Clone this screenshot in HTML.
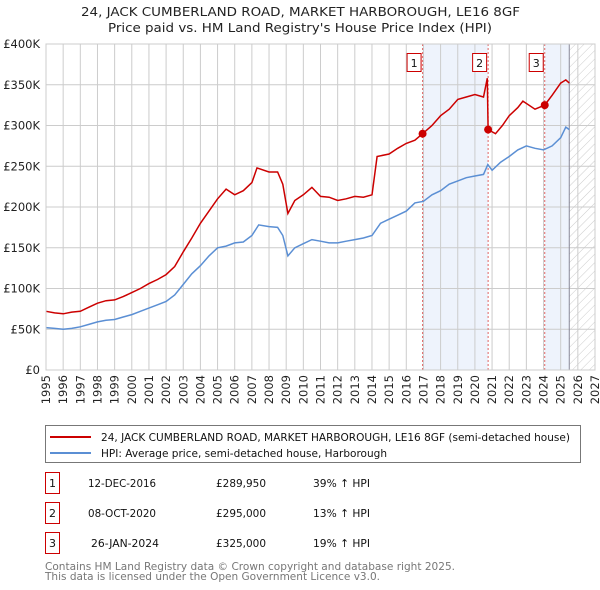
<!DOCTYPE html>
<html><head><meta charset="utf-8"><style>
body{margin:0;background:#fff;}
svg{display:block;font-family:"DejaVu Sans","Liberation Sans",sans-serif;}
</style></head><body>
<svg id="c" width="600" height="590" viewBox="0 0 600 590" xmlns="http://www.w3.org/2000/svg">
<defs><pattern id="hatch" width="6" height="6" patternUnits="userSpaceOnUse" patternTransform="rotate(45)"><line x1="0" y1="0" x2="0" y2="6" stroke="#ccc" stroke-width="1"/></pattern></defs>
<text x="81" y="16" textLength="439" lengthAdjust="spacingAndGlyphs" font-size="12" fill="#222">24, JACK CUMBERLAND ROAD, MARKET HARBOROUGH, LE16 8GF</text>
<text x="108" y="32" textLength="384" lengthAdjust="spacingAndGlyphs" font-size="12" fill="#222">Price paid vs. HM Land Registry's House Price Index (HPI)</text>
<g id="plot"></g>
<g>
<rect x="45.5" y="425.5" width="535" height="37" fill="#fff" stroke="#777"/>
<line x1="50" y1="437" x2="91" y2="437" stroke="#cc0000" stroke-width="2"/>
<text x="101" y="441" textLength="469" lengthAdjust="spacingAndGlyphs" font-size="11" fill="#111">24, JACK CUMBERLAND ROAD, MARKET HARBOROUGH, LE16 8GF (semi-detached house)</text>
<line x1="50" y1="453" x2="91" y2="453" stroke="#5b8fd4" stroke-width="2"/>
<text x="101" y="457" textLength="286" lengthAdjust="spacingAndGlyphs" font-size="11" fill="#111">HPI: Average price, semi-detached house, Harborough</text>
</g>
<g id="table" font-size="11" fill="#111"></g>
<text x="45" y="570" textLength="410" lengthAdjust="spacingAndGlyphs" font-size="11" fill="#777">Contains HM Land Registry data © Crown copyright and database right 2025.</text>
<text x="45" y="580" textLength="335" lengthAdjust="spacingAndGlyphs" font-size="11" fill="#777">This data is licensed under the Open Government Licence v3.0.</text>
</svg>
<script>
const yearTicks=[1995,1996,1997,1998,1999,2000,2001,2002,2003,2004,2005,2006,2007,2008,2009,2010,2011,2012,2013,2014,2015,2016,2017,2018,2019,2020,2021,2022,2023,2024,2025,2026,2027];
const priceTicks=[0,50,100,150,200,250,300,350,400];
const hpiT=[1995,1995.5,1996,1996.5,1997,1997.5,1998,1998.5,1999,1999.5,2000,2000.5,2001,2001.5,2002,2002.5,2003,2003.5,2004,2004.5,2005,2005.5,2006,2006.5,2007,2007.4,2008,2008.5,2008.8,2009.1,2009.5,2010,2010.5,2011,2011.5,2012,2012.5,2013,2013.5,2014,2014.5,2015,2015.5,2016,2016.5,2017,2017.5,2018,2018.5,2019,2019.5,2020,2020.5,2020.75,2021,2021.5,2022,2022.5,2023,2023.5,2024,2024.5,2025,2025.3,2025.5];
const hpiV=[52,51,50,51,53,56,59,61,62,65,68,72,76,80,84,92,105,118,128,140,150,152,156,157,165,178,176,175,165,140,150,155,160,158,156,156,158,160,162,165,180,185,190,195,205,207,215,220,228,232,236,238,240,252,245,255,262,270,275,272,270,275,285,298,295];
const redT=[1995,1995.5,1996,1996.5,1997,1997.5,1998,1998.5,1999,1999.5,2000,2000.5,2001,2001.5,2002,2002.5,2003,2003.5,2004,2004.5,2005,2005.5,2006,2006.5,2007,2007.3,2008,2008.5,2008.8,2009.1,2009.5,2010,2010.5,2011,2011.5,2012,2012.5,2013,2013.5,2014,2014.3,2015,2015.5,2016,2016.5,2016.95,2017.5,2018,2018.5,2019,2019.5,2020,2020.5,2020.72,2020.77,2021.2,2021.6,2022,2022.5,2022.8,2023.5,2024.07,2024.5,2025,2025.3,2025.5];
const redV=[72,70,69,71,72,77,82,85,86,90,95,100,106,111,117,127,145,162,180,195,210,222,215,220,230,248,243,243,228,192,208,215,224,213,212,208,210,213,212,215,262,265,272,278,282,290,300,312,320,332,335,338,335,358,295,290,300,312,322,330,320,325,337,352,356,352];
const saleT=[2016.95,2020.77,2024.07];
const saleV=[289.95,295,325];
const saleLabels=["1","2","3"];
const saleDates=["12-DEC-2016","08-OCT-2020","26-JAN-2024"];
const salePrices=["£289,950","£295,000","£325,000"];
const saleHpi=["39% ↑ HPI","13% ↑ HPI","19% ↑ HPI"];

const L=46,R=595,T=44,B=370;
const x=t=>L+(t-1995)/(2027-1995)*(R-L);
const y=v=>B-v/400*(B-T);
const NS="http://www.w3.org/2000/svg";
const plot=document.getElementById('plot');
function mk(tag,a,parent){const e=document.createElementNS(NS,tag);for(const k in a)e.setAttribute(k,a[k]);(parent||plot).appendChild(e);return e;}
let e;
e=mk('rect',{x:L,y:T,width:R-L,height:B-T,fill:'#fff'});


e=mk('rect',{x:x(saleT[0]),y:T,width:x(saleT[1])-x(saleT[0]),height:B-T,fill:'#eef3fc'});


e=mk('rect',{x:x(saleT[2]),y:T,width:x(2025.5)-x(saleT[2]),height:B-T,fill:'#eef3fc'});


e=mk('rect',{x:x(2025.5),y:T,width:R-x(2025.5),height:B-T,fill:'url(#hatch)'});


yearTicks.forEach(t=>{
 e=mk('line',{x1:x(t),y1:T,x2:x(t),y2:B,stroke:'#ccc','stroke-width':1});
 
 
 e=mk('text',{x:0,y:0,transform:`translate(${x(t)+4},${B+5}) rotate(-90)`,'text-anchor':'end','font-size':11.5,fill:'#222'});
 e.textContent=t;
 
 
});
priceTicks.forEach(v=>{
 e=mk('line',{x1:L,y1:y(v),x2:R,y2:y(v),stroke:'#ccc','stroke-width':1});
 
 
 e=mk('text',{x:L-6,y:y(v)+4,'text-anchor':'end','font-size':11.5,fill:'#222'});
 e.textContent=v===0?'£0':'£'+v+'K';
 
 
});
e=mk('line',{x1:x(2025.5),y1:T,x2:x(2025.5),y2:B,stroke:'#889','stroke-width':1});


saleT.forEach((t,i)=>{
 e=mk('line',{x1:x(t),y1:T,x2:x(t),y2:B,stroke:'#e06666','stroke-width':1,'stroke-dasharray':'2,2'});
 
 
});
const pts=(ts,vs)=>ts.map((t,i)=>x(t).toFixed(1)+','+y(vs[i]).toFixed(1)).join(' ');
e=mk('polyline',{points:pts(hpiT,hpiV),fill:'none',stroke:'#5b8fd4','stroke-width':1.5});


e=mk('polyline',{points:pts(redT,redV),fill:'none',stroke:'#cc0000','stroke-width':1.5});


saleT.forEach((t,i)=>{
 e=mk('circle',{cx:x(t),cy:y(saleV[i]),r:4,fill:'#cc0000'});
 
 
 const g=mk('g',{});
 
 
 mk('rect',{x:x(t)-15.5,y:53.5,width:14,height:18,fill:'#fff',stroke:'#cc0000'},g);
 const tx=mk('text',{x:x(t)-8.5,y:67,'text-anchor':'middle','font-size':11,fill:'#111'},g);
 tx.textContent=saleLabels[i];
});
e=mk('rect',{x:L,y:T,width:R-L,height:B-T,fill:'none',stroke:'#ccc'});


const tbl=document.getElementById('table');
saleT.forEach((t,i)=>{
 const yy=483+i*30;
 const g=mk('g',{},tbl);
 
 
 mk('rect',{x:45.5,y:yy-10.5,width:14,height:21,fill:'#fff',stroke:'#cc0000'},g);
 let a=mk('text',{x:52.5,y:yy+4,'text-anchor':'middle'},g);a.textContent=saleLabels[i];
 a=mk('text',{x:88+(i==2?3:0),y:yy+4,textLength:68,lengthAdjust:'spacingAndGlyphs'},g);a.textContent=saleDates[i];
 a=mk('text',{x:216,y:yy+4,textLength:50,lengthAdjust:'spacingAndGlyphs'},g);a.textContent=salePrices[i];
 a=mk('text',{x:313,y:yy+4,textLength:57,lengthAdjust:'spacingAndGlyphs'},g);a.textContent=saleHpi[i];
});
</script>
</body></html>
